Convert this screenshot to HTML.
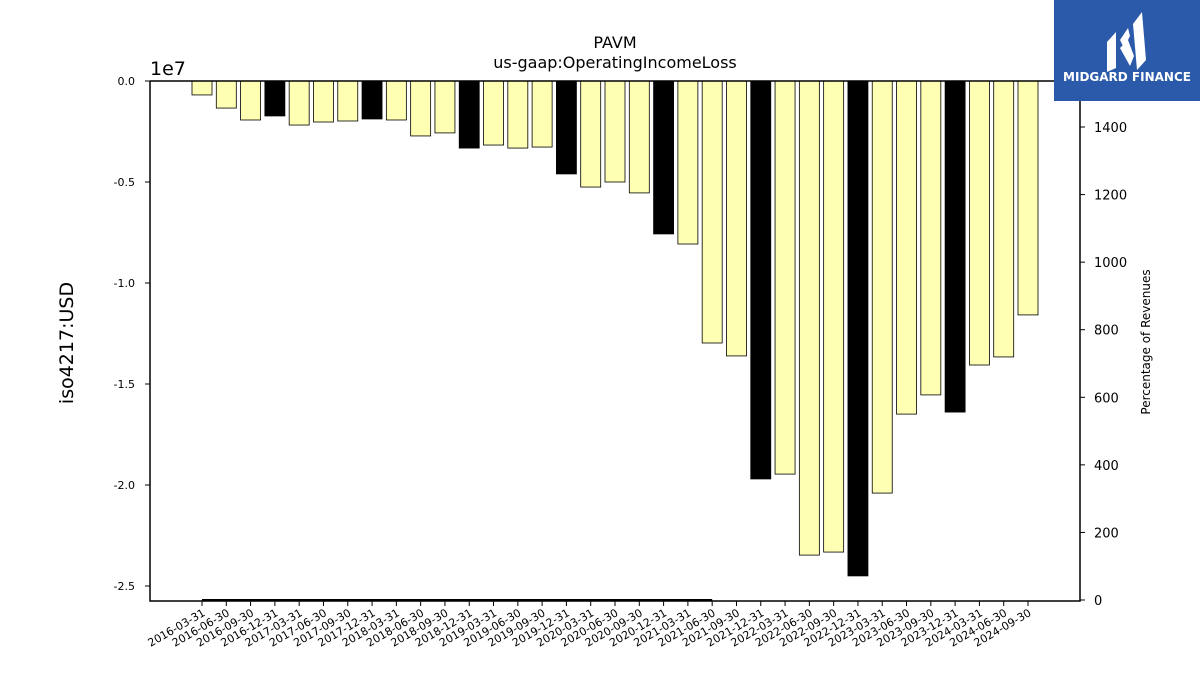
<!DOCTYPE html>
<html><head><meta charset="utf-8"><style>
body{margin:0;background:#fff;}
svg text{font-family:"DejaVu Sans","Liberation Sans",sans-serif;}
</style></head><body>
<svg id="chart" width="1200" height="675" xmlns="http://www.w3.org/2000/svg">
<text x="615" y="48" font-size="16" text-anchor="middle">PAVM</text>
<text x="615" y="68" font-size="16" text-anchor="middle">us-gaap:OperatingIncomeLoss</text>
<text x="150" y="75" font-size="19">1e7</text>
<text transform="translate(73,343) rotate(-90)" font-size="19" text-anchor="middle">iso4217:USD</text>
<text transform="translate(1150,342) rotate(-90)" font-size="12" text-anchor="middle">Percentage of Revenues</text>
<g id="bars"></g><g id="line"></g><g id="axes"></g>
<g>
<rect x="1054" y="0" width="146" height="101" fill="#2b5aaa"/>
<path d="M1107 42 L1116 32 L1116 68 L1107 72 Z M1120 40 L1128 28 L1130 36 L1124 48 Z M1133 24 L1142 12 L1146 60 L1137 70 Z M1120 48 L1128 40 L1134 56 L1130 66 Z" fill="#fff"/>
<text x="1127" y="81" font-size="12" font-weight="bold" fill="#fff" text-anchor="middle">MIDGARD FINANCE</text>
</g>
</svg>
<script>
const categories=["2016-03-31","2016-06-30","2016-09-30","2016-12-31","2017-03-31","2017-06-30","2017-09-30","2017-12-31","2018-03-31","2018-06-30","2018-09-30","2018-12-31","2019-03-31","2019-06-30","2019-09-30","2019-12-31","2020-03-31","2020-06-30","2020-09-30","2020-12-31","2021-03-31","2021-06-30","2021-09-30","2021-12-31","2022-03-31","2022-06-30","2022-09-30","2022-12-31","2023-03-31","2023-06-30","2023-09-30","2023-12-31","2024-03-31","2024-06-30","2024-09-30"];
const values=[-0.69,-1.34,-1.93,-1.73,-2.18,-2.03,-1.98,-1.88,-1.93,-2.72,-2.57,-3.32,-3.17,-3.32,-3.27,-4.60,-5.25,-5.00,-5.54,-7.57,-8.07,-12.97,-13.61,-19.70,-19.46,-23.47,-23.32,-24.50,-20.40,-16.49,-15.54,-16.39,-14.06,-13.66,-11.58];
const pctValues=[0,0,0,0,0,0,0,0,0,0,0,0,0,0,0,0,0,0,0,0,0,0,null,null,null,null,null,null,null,null,null,null,null,null,null];
const leftTicks=[0,-0.5,-1.0,-1.5,-2.0,-2.5];
const rightTicks=[0,200,400,600,800,1000,1200,1400];
const NS="http://www.w3.org/2000/svg";
const X0=150,X1=1080,YT=81,YB=601;
const xS=i=>202+i*(1028-202)/34;
const yL=v=>81+(-v)*20.2; // v in 1e6
const yR=v=>600-v*(473/1400);
function mk(t,a,p){const e=document.createElementNS(NS,t);for(const k in a)e.setAttribute(k,a[k]);p.appendChild(e);return e;}
const bars=document.getElementById('bars'),line=document.getElementById('line'),axes=document.getElementById('axes');
values.forEach((v,i)=>{
 const q4=categories[i].endsWith('12-31');
 const r=mk('rect',{x:xS(i)-10,y:yL(0),width:20,height:yL(v)-yL(0),fill:q4?'#000':'#ffffb3',stroke:'#000','stroke-width':0.8},bars);
 
 
});
let d='';pctValues.forEach((v,i)=>{if(v!==null)d+=(d?'L':'M')+xS(i)+' '+yR(v);});
const pl=mk('path',{d:d,fill:'none',stroke:'#000','stroke-width':2},line);


const fr=mk('path',{d:`M${X0} ${YT}L${X0} ${YB}L${X1} ${YB}L${X1} ${YT}L${X0} ${YT}`,fill:'none',stroke:'#000','stroke-width':1.5},axes);


leftTicks.forEach(t=>{
 const y=yL(t*10);
 mk('line',{x1:X0-5,x2:X0,y1:y,y2:y,stroke:'#000'},axes);
 const tx=mk('text',{x:X0-15,y:y+4,'font-size':11,'text-anchor':'end'},axes);tx.textContent=t.toFixed(1);
 
 
});
rightTicks.forEach(t=>{
 const y=yR(t);
 mk('line',{x1:X1,x2:X1+5,y1:y,y2:y,stroke:'#000'},axes);
 const tx=mk('text',{x:X1+14,y:y+5,'font-size':13},axes);tx.textContent=t;
 
 
});
categories.forEach((c,i)=>{
 const x=xS(i);
 mk('line',{x1:x,x2:x,y1:YB,y2:YB+5,stroke:'#000'},axes);
 const tx=mk('text',{transform:`translate(${x+4},${YB+14}) rotate(-30)`,'font-size':11,'text-anchor':'end'},axes);tx.textContent=c;
 
 
});
</script>
</body></html>
